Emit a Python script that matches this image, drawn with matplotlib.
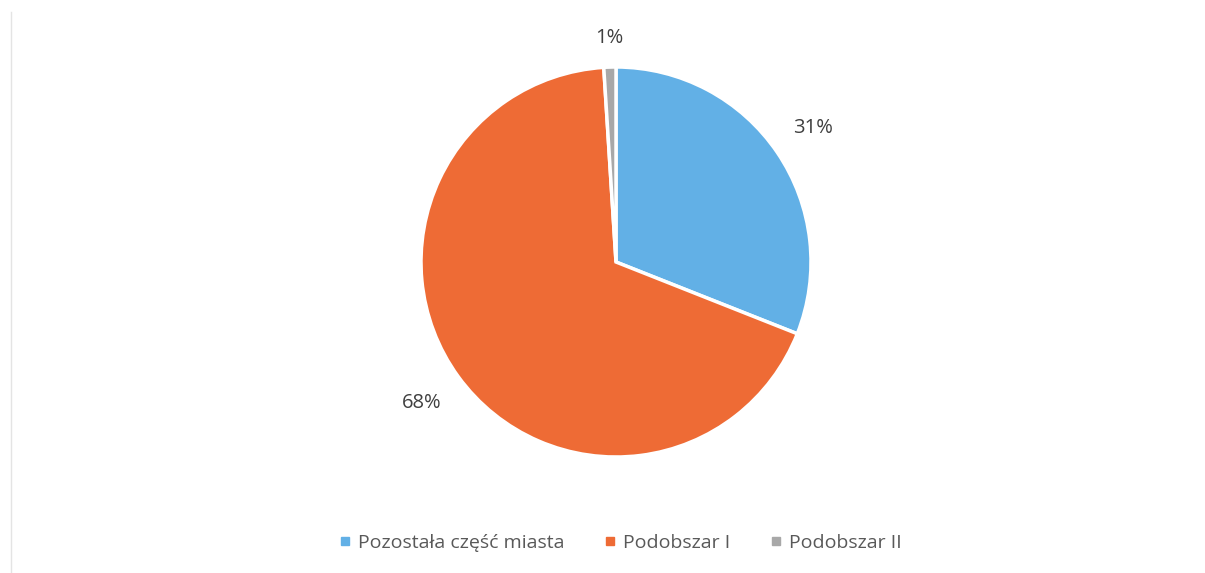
import matplotlib
matplotlib.use("Agg")
import matplotlib.pyplot as plt
from matplotlib.lines import Line2D
import numpy as np

# share of area per part of the city (%)
categories = ["Pozostała część miasta", "Podobszar I", "Podobszar II"]
shares = [31, 68, 1]
colors = ["#62b0e6", "#ee6b35", "#a8a8a8"]

plt.rcParams['font.family'] = ['Open Sans', 'DejaVu Sans']

W, H = 1205, 573
fig = plt.figure(figsize=(W / 100, H / 100), dpi=100)

cx, cy, r = 616, 262, 195
ax = fig.add_axes([(cx - r) / W, (H - cy - r) / H, 2 * r / W, 2 * r / H])
wedges, _ = ax.pie(shares, colors=colors, startangle=90, counterclock=False,
                   radius=1.0,
                   wedgeprops=dict(edgecolor="white", linewidth=2.5))
ax.set_xlim(-1, 1)
ax.set_ylim(-1, 1)
ax.set_aspect("equal")
ax.axis("off")

# percentage labels just outside the pie
label_dist = [1.22, 1.23, 1.15]
for w, v, d in zip(wedges, shares, label_dist):
    ang = np.deg2rad((w.theta1 + w.theta2) / 2)
    ax.text(d * np.cos(ang), d * np.sin(ang), f"{v}%", ha="center",
            va="center", fontsize=14.5, color="#404040", clip_on=False)

handles = [Line2D([], [], marker="s", linestyle="none", markersize=6,
                  markerfacecolor=c, markeredgecolor=c) for c in colors]
fig.legend(handles, categories, loc="center", bbox_to_anchor=(620 / W, 1 - 543 / H),
           ncol=3, frameon=False, fontsize=14, labelcolor="#595959",
           handletextpad=0.3, columnspacing=2.0, handlelength=0.7)

# faint frame edge on the left
fig.add_artist(Line2D([11 / W, 11 / W], [0, 1 - 12 / H], transform=fig.transFigure,
                      color="#e4e4e4", linewidth=1))

fig.savefig("out.png", dpi=100, facecolor="white")
